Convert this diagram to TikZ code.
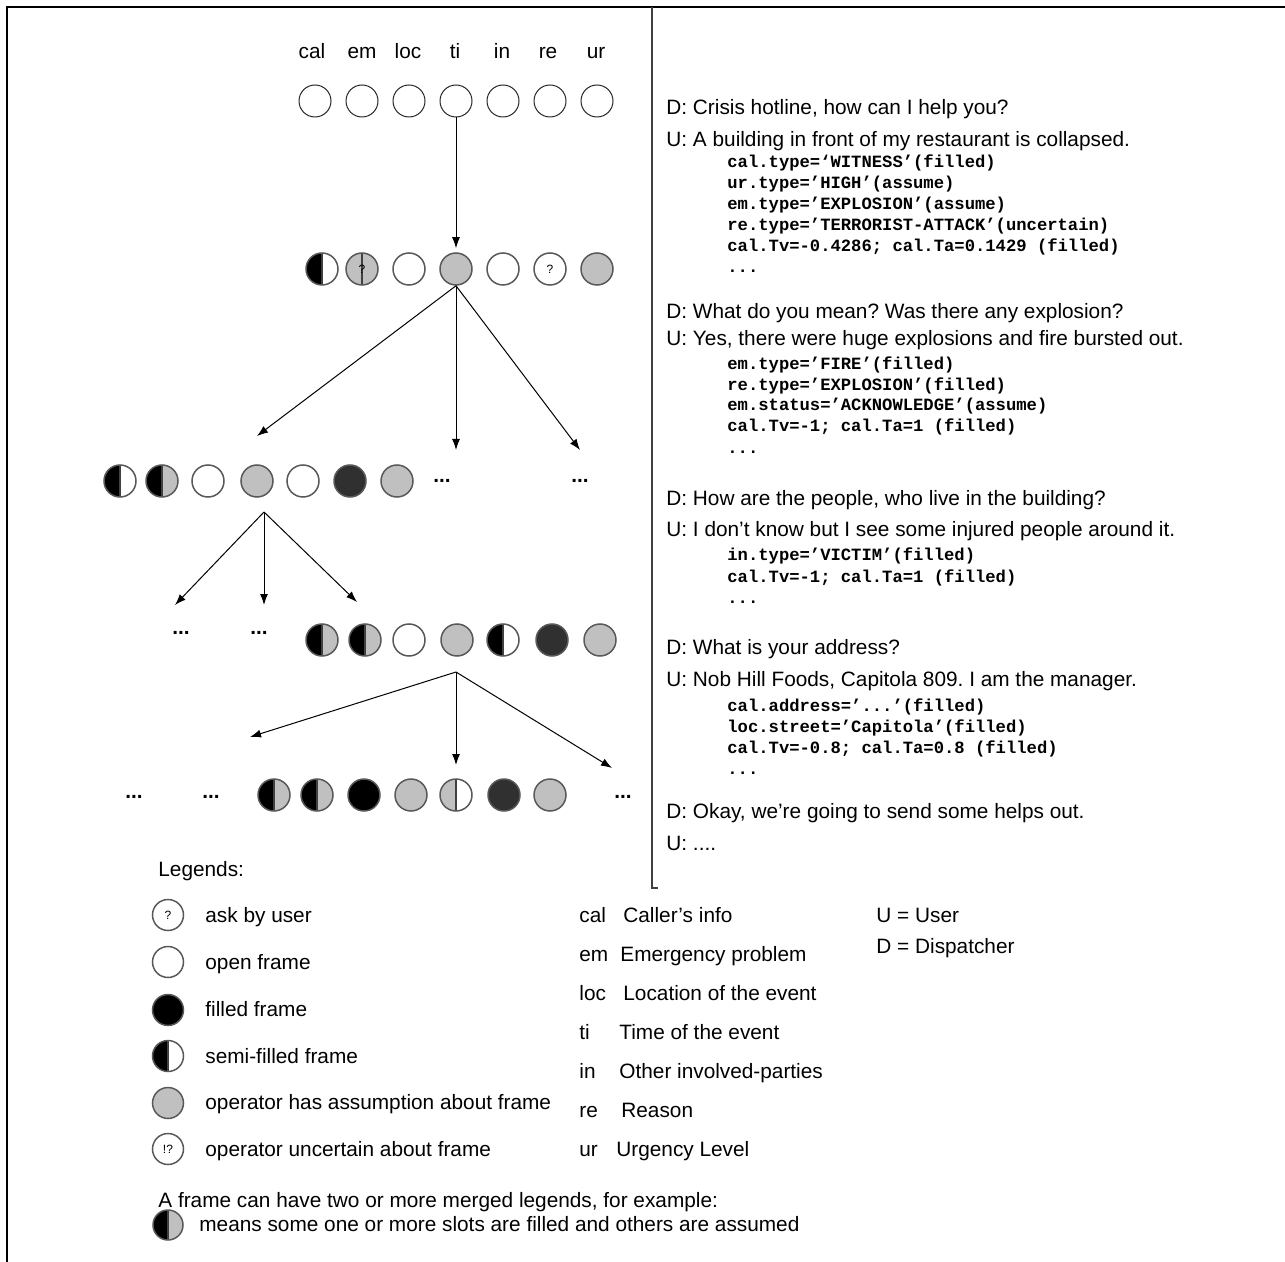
\documentclass[tikz,border=0pt]{standalone}
\usepackage{fontspec}
\setmainfont{Liberation Sans}
\setmonofont{Liberation Mono}
\usepackage{tikz}
\usepackage{xcolor}
\usetikzlibrary{
    arrows,
    arrows.meta,
    calc,
    positioning
}
\definecolor{assumegray}{HTML}{C0C0C0}
\definecolor{darkfill}{HTML}{303030}
\newcommand{\slotfont}{\ttfamily\bfseries\fontsize{8.6}{10.5}\selectfont}
\newcommand{\qfont}{\fontsize{6}{7}\selectfont}
\frenchspacing

\begin{document}
\begin{tikzpicture}[x=0.5pt, y=-0.5pt, >={Latex[length=5.5pt, width=4pt]},
        every node/.style={font=\fontsize{10.4}{12.5}\selectfont},
        slot/.style={circle, draw=black!65, line width=0.75pt, fill=white, minimum size=16pt, inner sep=0pt},
        topslot/.style={slot, draw=black!85, line width=0.5pt},
        greyslot/.style={slot, fill=assumegray},
        fullslot/.style={slot, fill=black},
        darkslot/.style={slot, fill=darkfill},
        midline/.style={path picture={\draw[black!75, line width=0.75pt] (path picture bounding box.north) -- (path picture bounding box.south);}},
        halfslot/.style 2 args={slot, path picture={
            \fill[#1] (path picture bounding box.north west) rectangle (path picture bounding box.south);
            \fill[#2] (path picture bounding box.north) rectangle (path picture bounding box.south east);
            \draw[black!75, line width=0.75pt] (path picture bounding box.north) -- (path picture bounding box.south);}},
        askslot/.style={slot, font=\qfont},
        legslot/.style={minimum size=15.5pt},
        slotname/.style={anchor=base, inner sep=0pt},
        said/.style={anchor=base west, inner sep=0pt},
        slottext/.style={anchor=base west, inner sep=0pt, align=left, font=\slotfont}
    ]
    \useasboundingbox (0,0) rectangle (1285,1262);
    \draw[line width=1.2pt] (7,1262) -- (7,7) -- (1285,7);
    \draw[black!75, line width=0.6pt] (652,7) -- (652,888) -- (658,888);

    % slot names
    \node[slotname] (hcal) at (312,59) {cal};
    \node[slotname] (hem) at (362,59) {em};
    \node[slotname] (hloc) at (408,59) {loc};
    \node[slotname] (hti) at (455,59) {ti};
    \node[slotname] (hin) at (502,59) {in};
    \node[slotname] (hre) at (548,59) {re};
    \node[slotname] (hur) at (596,59) {ur};

    % first state
    \node[topslot] (a1) at (315,101) {};
    \node[topslot] (a2) at (362,101) {};
    \node[topslot] (a3) at (409,101) {};
    \node[topslot] (a4) at (456,101) {};
    \node[topslot] (a5) at (503,101) {};
    \node[topslot] (a6) at (550,101) {};
    \node[topslot] (a7) at (597,101) {};

    % second state
    \node[halfslot={black}{white}] (b1) at (322,269) {};
    \node[greyslot, midline, font=\qfont] (b2) at (362,269) {?};
    \node[slot] (b3) at (409,269) {};
    \node[greyslot] (b4) at (456,269) {};
    \node[slot] (b5) at (503,269) {};
    \node[askslot] (b6) at (550,269) {?};
    \node[greyslot] (b7) at (597,269) {};

    % third state
    \node[halfslot={black}{white}] (c1) at (120,481) {};
    \node[halfslot={black}{assumegray}] (c2) at (162,481) {};
    \node[slot] (c3) at (208,481) {};
    \node[greyslot] (c4) at (257,481) {};
    \node[slot] (c5) at (303,481) {};
    \node[darkslot] (c6) at (350,481) {};
    \node[greyslot] (c7) at (397,481) {};
    \node (c8) at (442,481) {\textbf{...}};
    \node (c9) at (580,481) {\textbf{...}};

    % fourth state
    \node (dl1) at (181,633) {\textbf{...}};
    \node (dl2) at (259,633) {\textbf{...}};
    \node[halfslot={black}{assumegray}] (d1) at (322,640) {};
    \node[halfslot={black}{assumegray}] (d2) at (365,640) {};
    \node[slot] (d3) at (409,640) {};
    \node[greyslot] (d4) at (457,640) {};
    \node[halfslot={black}{white}] (d5) at (503,640) {};
    \node[darkslot] (d6) at (552,640) {};
    \node[greyslot] (d7) at (600,640) {};

    % fifth state
    \node (el1) at (134,797) {\textbf{...}};
    \node (el2) at (211,797) {\textbf{...}};
    \node[halfslot={black}{assumegray}] (e1) at (274,795) {};
    \node[halfslot={black}{assumegray}] (e2) at (317,795) {};
    \node[fullslot] (e3) at (364,795) {};
    \node[greyslot] (e4) at (411,795) {};
    \node[halfslot={assumegray}{white}] (e5) at (456,795) {};
    \node[darkslot] (e6) at (504,795) {};
    \node[greyslot] (e7) at (550,795) {};
    \node (el3) at (623,797) {\textbf{...}};

    \coordinate (toc) at (257,436);
    \coordinate (toc8) at (456,450);
    \coordinate (toc9) at (580,450);
    \coordinate (fromc) at (264,512);
    \coordinate (todl1) at (175,605);
    \coordinate (todl2) at (264,605);
    \coordinate (tod) at (357,602);
    \coordinate (fromd) at (456,672);
    \coordinate (toel2) at (250,737);
    \coordinate (toe) at (456,765);
    \coordinate (toel3) at (612,768);

    \draw[line width=0.5pt]
    (a4) edge[->, shorten >=2pt] (b4)
    (b4.south) edge[->] (toc)
    (b4.south) edge[->] (toc8)
    (b4.south) edge[->] (toc9)
    (fromc) edge[->] (todl1)
    (fromc) edge[->] (todl2)
    (fromc) edge[->] (tod)
    (fromd) edge[->] (toel2)
    (fromd) edge[->] (toe)
    (fromd) edge[->] (toel3);

    % dialogue, slot blocks sit on the baseline of their last line
    \node[said] (dq1) at (666,115) {D: Crisis hotline, how can I help you?};
    \node[said] (ua1) at (666,147) {U: A building in front of my restaurant is collapsed.};
    \node[slottext] (sl1) at (727,273) {cal.type=‘WITNESS’(filled)\\ur.type=’HIGH’(assume)\\em.type=’EXPLOSION’(assume)\\re.type=’TERRORIST-ATTACK’(uncertain)\\cal.Tv=-0.4286; cal.Ta=0.1429 (filled)\\...};
    \node[said] (dq2) at (666,319) {D: What do you mean? Was there any explosion?};
    \node[said] (ua2) at (666,346) {U: Yes, there were huge explosions and fire bursted out.};
    \node[slottext] (sl2) at (727,453) {em.type=’FIRE’(filled)\\re.type=’EXPLOSION’(filled)\\em.status=’ACKNOWLEDGE’(assume)\\cal.Tv=-1; cal.Ta=1 (filled)\\...};
    \node[said] (dq3) at (666,505) {D: How are the people, who live in the building?};
    \node[said] (ua3) at (666,537) {U: I don’t know but I see some injured people around it.};
    \node[slottext] (sl3) at (727,603) {in.type=’VICTIM’(filled)\\cal.Tv=-1; cal.Ta=1 (filled)\\...};
    \node[said] (dq4) at (666,654) {D: What is your address?};
    \node[said] (ua4) at (666,686) {U: Nob Hill Foods, Capitola 809. I am the manager.};
    \node[slottext] (sl4) at (727,774) {cal.address=’...’(filled)\\loc.street=’Capitola’(filled)\\cal.Tv=-0.8; cal.Ta=0.8 (filled)\\...};
    \node[said] (dq5) at (666,818) {D: Okay, we’re going to send some helps out.};
    \node[said] (ua5) at (666,850) {U: ....};

    % legends
    \node[said] (leg) at (158,876) {Legends:};
    \node[askslot, legslot] (lg1) at (168,915) {?};
    \node[said] (lt1) at (205,922) {ask by user};
    \node[slot, legslot] (lg2) at (168,962) {};
    \node[said] (lt2) at (205,969) {open frame};
    \node[fullslot, legslot] (lg3) at (168,1010) {};
    \node[said] (lt3) at (205,1016) {filled frame};
    \node[halfslot={black}{white}, legslot] (lg4) at (168,1056) {};
    \node[said] (lt4) at (205,1063) {semi-filled frame};
    \node[greyslot, legslot] (lg5) at (168,1103) {};
    \node[said] (lt5) at (205,1109) {operator has assumption about frame};
    \node[askslot, legslot] (lg6) at (168,1149) {!?};
    \node[said] (lt6) at (205,1156) {operator uncertain about frame};

    \node[said] (kcal) at (579,922) {cal};
    \node[said] (vcal) at (623,922) {Caller’s info};
    \node[said] (kem) at (579,961) {em};
    \node[said] (vem) at (620,961) {Emergency problem};
    \node[said] (kloc) at (579,1000) {loc};
    \node[said] (vloc) at (623,1000) {Location of the event};
    \node[said] (kti) at (579,1039) {ti};
    \node[said] (vti) at (619,1039) {Time of the event};
    \node[said] (kin) at (579,1078) {in};
    \node[said] (vin) at (619,1078) {Other involved-parties};
    \node[said] (kre) at (579,1117) {re};
    \node[said] (vre) at (621,1117) {Reason};
    \node[said] (kur) at (579,1156) {ur};
    \node[said] (vur) at (616,1156) {Urgency Level};

    \node[said] (who1) at (876,922) {U = User};
    \node[said] (who2) at (876,953) {D = Dispatcher};

    \node[said] (merge) at (158,1207) {A frame can have two or more merged legends, for example:};
    \node[halfslot={black}{assumegray}, minimum size=15pt] (lg7) at (168,1225) {};
    \node[said] (mergeex) at (199,1231) {means some one or more slots are filled and others are assumed};
\end{tikzpicture}
\end{document}
